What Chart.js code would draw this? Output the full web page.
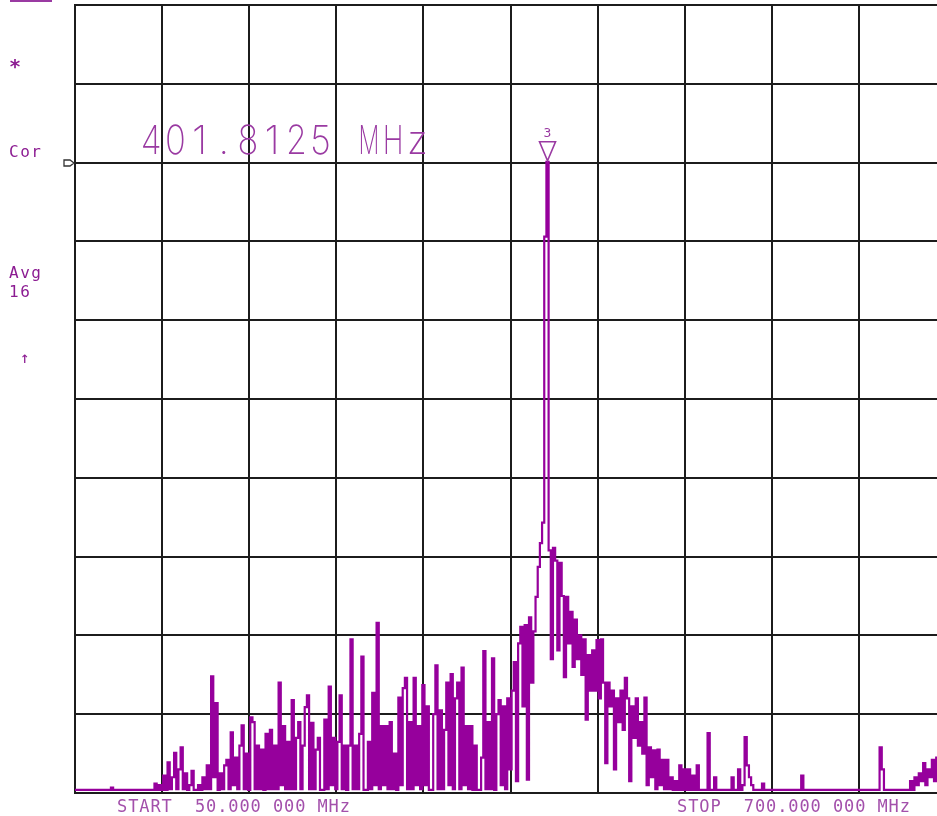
<!DOCTYPE html>
<html>
<head>
<meta charset="utf-8">
<script src="https://cdn.jsdelivr.net/npm/chart.js@4.4.1/dist/chart.umd.min.js"></script>
<style>
  html, body { margin: 0; padding: 0; background: #fff; overflow: hidden; }
  #wrap { position: absolute; left: 0; top: 0; width: 950px; height: 816px; }
</style>
</head>
<body>
<div id="wrap"><canvas id="spectrum" width="950" height="816"></canvas></div>
<script>
// sweep settings (401 trace points)
const startMHz = 50;
const stopMHz = 700;
const stepMHz = 1.625;
const divMHz = 65;
const markerText = "401.8125 MHz";
const markerNo = "3";
const refLevel = 8;   // reference arrow on the left edge (divisions)

const startLabel = "START  50.000 000 MHz";
const stopLabel = "STOP  700.000 000 MHz";
const sideLabels = ["*", "Cor", "Avg", "16", "\u2191"];

// trace level in divisions above the bottom graticule
const level = [
  0.04, 0.04, 0.04, 0.04, 0.04, 0.04, 0.04, 0.04, 0.04, 0.04,
  0.04, 0.04, 0.04, 0.04, 0.04, 0.04, 0.04, 0.07, 0.04, 0.04,
  0.04, 0.04, 0.04, 0.04, 0.04, 0.04, 0.04, 0.04, 0.04, 0.04,
  0.04, 0.04, 0.04, 0.04, 0.04, 0.04, 0.04, 0.12, 0.04, 0.10,
  0.04, 0.22, 0.04, 0.39, 0.05, 0.20, 0.51, 0.05, 0.30, 0.58,
  0.05, 0.25, 0.04, 0.10, 0.28, 0.04, 0.04, 0.10, 0.04, 0.20,
  0.05, 0.35, 0.05, 1.48, 0.20, 1.14, 0.04, 0.25, 0.05, 0.35,
  0.42, 0.05, 0.77, 0.10, 0.45, 0.05, 0.60, 0.86, 0.05, 0.50,
  0.04, 0.96, 0.90, 0.05, 0.60, 0.05, 0.55, 0.04, 0.75, 0.05,
  0.80, 0.05, 0.60, 0.05, 1.40, 0.10, 0.85, 0.05, 0.65, 0.05,
  1.18, 0.05, 0.70, 0.90, 0.05, 0.60, 1.09, 1.24, 0.05, 0.89,
  0.05, 0.55, 0.70, 0.04, 0.04, 0.93, 0.05, 1.35, 0.10, 0.70,
  0.05, 0.65, 1.24, 0.05, 0.60, 0.04, 0.60, 1.95, 0.05, 0.60,
  0.05, 0.75, 1.73, 0.04, 0.04, 0.65, 0.05, 1.27, 0.10, 2.16,
  0.05, 0.85, 0.10, 0.85, 0.05, 0.90, 0.05, 0.50, 0.04, 1.21,
  0.10, 1.33, 1.46, 0.05, 0.90, 0.05, 1.46, 0.10, 0.85, 0.05,
  1.37, 0.10, 1.10, 0.04, 0.04, 1.00, 1.62, 0.05, 1.05, 0.05,
  0.80, 1.40, 0.10, 1.51, 0.05, 1.20, 1.40, 0.05, 1.59, 0.10,
  0.85, 0.05, 0.85, 0.04, 0.60, 0.04, 0.04, 0.45, 1.80, 0.05,
  0.90, 0.05, 1.71, 0.04, 1.00, 1.18, 0.10, 1.10, 0.05, 1.20,
  0.30, 1.30, 1.66, 0.15, 1.90, 2.11, 1.10, 2.13, 0.17, 2.23,
  1.40, 2.05, 2.49, 2.87, 3.17, 3.43, 7.06, 8.01, 3.08, 1.70,
  3.11, 2.95, 1.81, 2.92, 2.50, 1.47, 2.49, 1.90, 2.30, 1.60,
  2.20, 1.70, 2.00, 1.50, 1.95, 0.93, 1.75, 1.30, 1.81, 1.30,
  1.94, 1.20, 1.95, 1.40, 0.38, 1.40, 1.10, 1.30, 0.30, 1.20,
  0.90, 1.30, 0.80, 1.46, 1.20, 0.15, 1.10, 0.70, 1.20, 0.60,
  0.90, 0.50, 1.21, 0.10, 0.58, 0.20, 0.54, 0.05, 0.55, 0.10,
  0.42, 0.05, 0.42, 0.05, 0.20, 0.04, 0.15, 0.04, 0.35, 0.04,
  0.30, 0.04, 0.30, 0.04, 0.22, 0.04, 0.35, 0.04, 0.04, 0.04,
  0.04, 0.76, 0.04, 0.04, 0.20, 0.04, 0.04, 0.04, 0.04, 0.04,
  0.04, 0.04, 0.20, 0.04, 0.04, 0.30, 0.04, 0.10, 0.71, 0.35,
  0.20, 0.10, 0.04, 0.04, 0.04, 0.04, 0.12, 0.04, 0.04, 0.04,
  0.04, 0.04, 0.04, 0.04, 0.04, 0.04, 0.04, 0.04, 0.04, 0.04,
  0.04, 0.04, 0.04, 0.04, 0.22, 0.04, 0.04, 0.04, 0.04, 0.04,
  0.04, 0.04, 0.04, 0.04, 0.04, 0.04, 0.04, 0.04, 0.04, 0.04,
  0.04, 0.04, 0.04, 0.04, 0.04, 0.04, 0.04, 0.04, 0.04, 0.04,
  0.04, 0.04, 0.04, 0.04, 0.04, 0.04, 0.04, 0.04, 0.04, 0.04,
  0.58, 0.30, 0.04, 0.04, 0.04, 0.04, 0.04, 0.04, 0.04, 0.04,
  0.04, 0.04, 0.04, 0.04, 0.15, 0.04, 0.20, 0.10, 0.25, 0.15,
  0.38, 0.10, 0.30, 0.20, 0.42, 0.15, 0.45, 0.30, 0.50, 0.35,
  0.45
];

const traceColor = "#96009c";
const textColor = "#9a3aa2";
const gridColor = "#1c1c1c";

const points = level.map((v, i) => ({ x: startMHz + i * stepMHz, y: v }));

const overlay = {
  id: "overlay",
  afterDraw(chart) {
    const ctx = chart.ctx;
    const xs = chart.scales.x;
    const ys = chart.scales.y;
    ctx.save();

    // partial softkey box at top left
    ctx.fillStyle = textColor;
    ctx.fillRect(10, 0, 42, 2);

    // side annotations
    ctx.fillStyle = "#8c1c92";
    ctx.textAlign = "left";
    ctx.textBaseline = "alphabetic";
    ctx.font = 'bold 20px "DejaVu Sans Mono"';
    ctx.fillText(sideLabels[0], 9, 73);
    ctx.font = '16px "DejaVu Sans Mono"';
    ctx.letterSpacing = "1.5px";
    ctx.fillText(sideLabels[1], 9, 157);
    ctx.fillText(sideLabels[2], 9, 278);
    ctx.fillText(sideLabels[3], 9, 297);
    ctx.fillText(sideLabels[4], 20, 363);

    // reference level arrow
    const ry = Math.round(ys.getPixelForValue(refLevel));
    ctx.strokeStyle = "#333";
    ctx.lineWidth = 1.3;
    ctx.beginPath();
    ctx.moveTo(64, ry - 3);
    ctx.lineTo(70, ry - 3);
    ctx.lineTo(74, ry);
    ctx.lineTo(70, ry + 3);
    ctx.lineTo(64, ry + 3);
    ctx.closePath();
    ctx.stroke();

    // marker readout, drawn in fixed cells like the instrument font
    ctx.fillStyle = textColor;
    ctx.letterSpacing = "0px";
    ctx.font = '200 40px Inter';
    ctx.textAlign = "center";
    const cell = 24.2;
    [...markerText].forEach((c, k) => {
      const w = ctx.measureText(c).width;
      const sx = Math.min(1, (cell * 0.86) / Math.max(w, 1));
      ctx.save();
      ctx.translate(139 + cell * k + cell / 2, 154);
      ctx.scale(sx, 1);
      ctx.fillText(c, 0, 0);
      ctx.restore();
    });

    // marker triangle on the peak
    let peak = 0;
    level.forEach((v, i) => { if (v > level[peak]) peak = i; });
    const px = xs.getPixelForValue(points[peak].x);
    const py = ys.getPixelForValue(points[peak].y);
    ctx.strokeStyle = textColor;
    ctx.lineWidth = 1.6;
    ctx.beginPath();
    ctx.moveTo(px - 8, py - 20);
    ctx.lineTo(px + 8, py - 20);
    ctx.lineTo(px, py - 1);
    ctx.closePath();
    ctx.stroke();
    ctx.font = '13px "DejaVu Sans Mono"';
    ctx.fillText(markerNo, px, py - 25);

    // start / stop
    ctx.fillStyle = "#a350ab";
    ctx.textAlign = "left";
    ctx.font = '17px "DejaVu Sans Mono"';
    ctx.letterSpacing = "0.9px";
    ctx.fillText(startLabel, 117, 812);
    ctx.fillText(stopLabel, 677, 812);

    ctx.restore();
  }
};

new Chart(document.getElementById("spectrum"), {
  type: "line",
  data: {
    datasets: [{
      data: points,
      borderColor: traceColor,
      borderWidth: 2.2,
      pointRadius: 0,
      stepped: "middle",
      fill: false
    }]
  },
  options: {
    responsive: false,
    animation: false,
    devicePixelRatio: 1,
    layout: { padding: { left: 75, top: 5, right: 4, bottom: 23 } },
    plugins: { legend: { display: false }, tooltip: { enabled: false } },
    scales: {
      x: {
        type: "linear",
        min: startMHz,
        max: stopMHz,
        ticks: { display: false, stepSize: divMHz },
        grid: { color: gridColor, lineWidth: 2, drawTicks: false },
        border: { display: true, color: gridColor, width: 2 }
      },
      y: {
        min: 0,
        max: 10,
        ticks: { display: false, stepSize: 1 },
        grid: { color: gridColor, lineWidth: 2, drawTicks: false },
        border: { display: true, color: gridColor, width: 2 }
      }
    }
  },
  plugins: [overlay]
});
</script>
</body>
</html>
